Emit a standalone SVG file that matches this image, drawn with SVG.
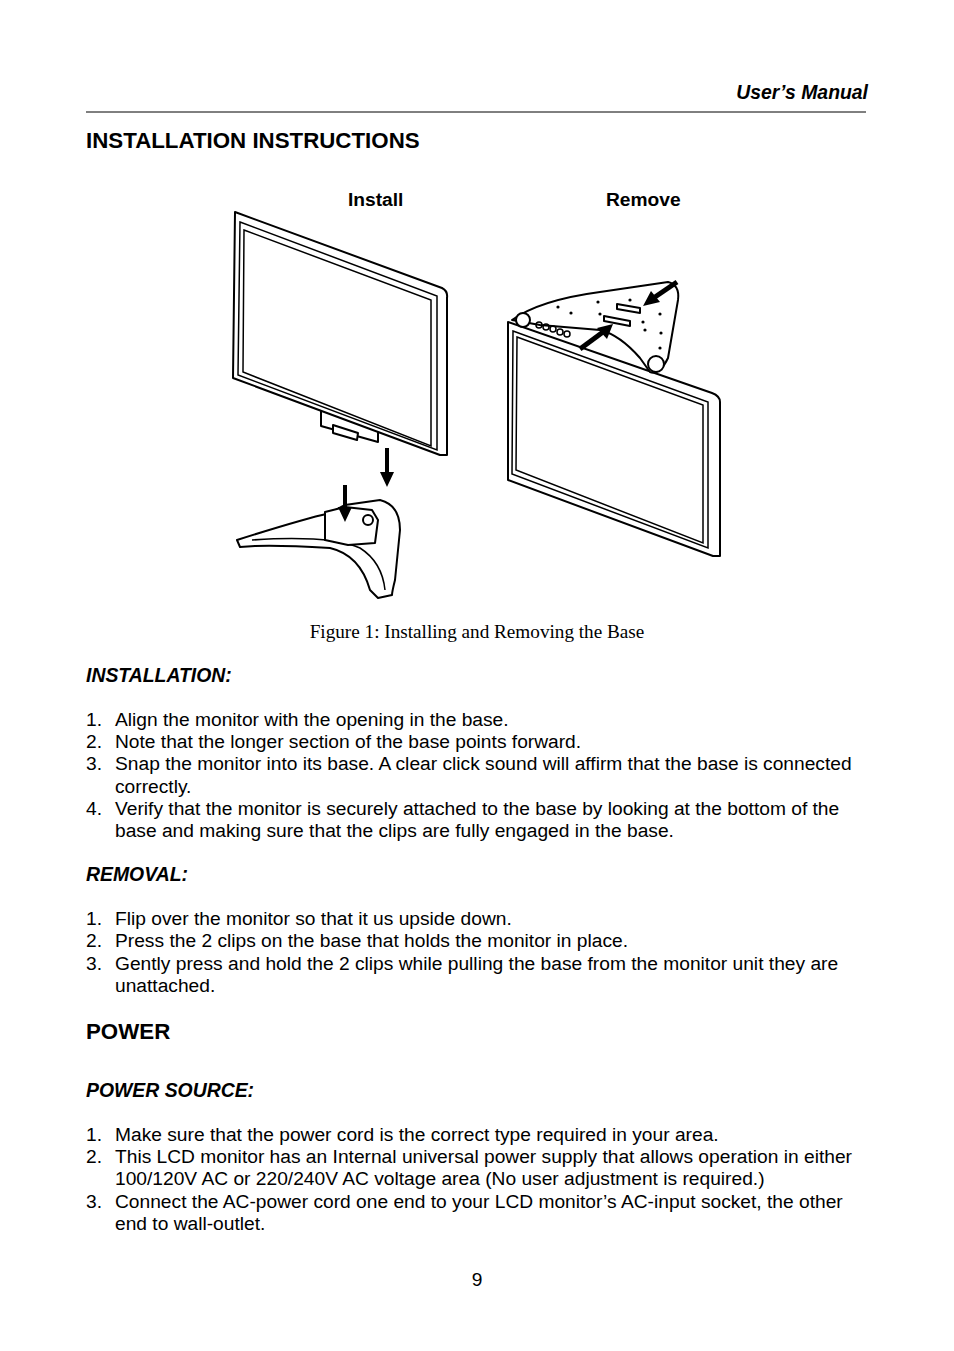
<svg xmlns="http://www.w3.org/2000/svg" width="954" height="1351" viewBox="0 0 954 1351">
<style>
.t{font-family:"Liberation Sans",Arial,sans-serif;font-size:19.2px;fill:#000}
.h{font-family:"Liberation Sans",Arial,sans-serif;font-size:22.3px;font-weight:bold}
.s{font-family:"Liberation Sans",Arial,sans-serif;font-size:19.4px;font-weight:bold;font-style:italic}
.d{fill:#fff;stroke:#000;stroke-width:2;stroke-linejoin:round}
.l{fill:none;stroke:#000;stroke-width:1.5}
</style>
<rect width="954" height="1351" fill="#fff"/>
<text x="868" y="99" text-anchor="end" class="s">User’s Manual</text>
<line x1="86" y1="112" x2="866" y2="112" stroke="#000" stroke-width="1"/>
<text x="86" y="148" class="h">INSTALLATION INSTRUCTIONS</text>
<text x="348" y="206" class="t" font-weight="bold">Install</text>
<text x="606" y="206" class="t" font-weight="bold">Remove</text>
<g id="install">
<path class="d" d="M321,405 L378,425 L378,442 L321,426 Z"/>
<path class="d" d="M333,425 L358,433 L357,440 L333,433 Z"/>
<path class="d" d="M235,212 L442,288 Q448,291 447,298 L447,455 L440,455 L233,378 Z"/>
<path class="l" d="M240,222 L437,296 L437,450 L238,375 Z"/>
<path class="l" d="M244,230 L431,300 L431,446 L243,372 Z"/>
<line x1="387" y1="448" x2="387" y2="475" stroke="#000" stroke-width="4"/>
<path d="M380,472 L394,472 L387,487 Z"/>
<path class="d" d="M237,540 Q300,520 330,513 L345,505 L380,500 Q400,505 400,530 L395,580 Q392,592 392,595 L378,598 L370,590 Q360,555 330,548 Q280,545 255,546 L240,547 Z"/>
<path class="l" d="M252,540 Q330,535 360,548 Q382,562 385,590"/>
<path class="d" d="M325,512 L345,507 L372,510 L378,520 L375,543 L348,545 L325,540 Z"/>
<circle cx="368" cy="520" r="5" class="d"/>
<line x1="345" y1="485" x2="345" y2="510" stroke="#000" stroke-width="4"/>
<path d="M338,507 L352,507 L345,522 Z"/>
</g>
<g id="remove">
<path class="d" d="M508,322 L712,393 Q720,396 720,402 L720,556 L713,556 L508,480 Z"/>
<path class="l" d="M513,331 L708,402 L708,548 L512,474 Z"/>
<path class="l" d="M517,337 L703,405 L703,543 L516,470 Z"/>
<path class="d" d="M512,320 Q540,300 600,292 L668,282 Q680,285 678,300 L668,358 Q660,375 650,372 L640,358 Q620,335 600,330 L540,325 Z"/>
<circle cx="523" cy="320" r="7" class="d"/>
<circle cx="656" cy="364" r="8" class="d"/>
<path class="d" d="M617,304 L640,308 L640,313 L617,309 Z"/>
<path class="d" d="M604,316 L630,321 L630,326 L604,321 Z"/>
<g fill="#000"><circle cx="598" cy="302" r="1.6"/><circle cx="630" cy="300" r="1.6"/><circle cx="660" cy="314" r="1.6"/><circle cx="661" cy="333" r="1.6"/><circle cx="600" cy="314" r="1.6"/><circle cx="645" cy="330" r="1.6"/><circle cx="660" cy="348" r="1.6"/><circle cx="643" cy="322" r="1.6"/><circle cx="558" cy="307" r="1.6"/><circle cx="571" cy="313" r="1.6"/></g>
<g class="l"><circle cx="539" cy="325" r="3"/><circle cx="546" cy="327" r="3"/><circle cx="553" cy="329" r="3"/><circle cx="560" cy="332" r="3"/><circle cx="567" cy="334" r="3"/></g>
<line x1="677" y1="282" x2="655" y2="297" stroke="#000" stroke-width="5"/>
<path d="M643,306 L660,302 L651,291 Z"/>
<line x1="580" y1="349" x2="603" y2="332" stroke="#000" stroke-width="5"/>
<path d="M613,324 L607,339 L597,328 Z"/>
</g>
<text x="477" y="638" text-anchor="middle" font-family="Liberation Serif,serif" font-size="19.2">Figure 1: Installing and Removing the Base</text>
<text x="86" y="682" class="s">INSTALLATION:</text>
<g class="t">
<text x="86" y="726">1.</text><text x="115" y="726">Align the monitor with the opening in the base.</text>
<text x="86" y="748">2.</text><text x="115" y="748">Note that the longer section of the base points forward.</text>
<text x="86" y="770">3.</text><text x="115" y="770">Snap the monitor into its base. A clear click sound will affirm that the base is connected</text>
<text x="115" y="793">correctly.</text>
<text x="86" y="815">4.</text><text x="115" y="815">Verify that the monitor is securely attached to the base by looking at the bottom of the</text>
<text x="115" y="837">base and making sure that the clips are fully engaged in the base.</text>
</g>
<text x="86" y="881" class="s">REMOVAL:</text>
<g class="t">
<text x="86" y="925">1.</text><text x="115" y="925">Flip over the monitor so that it us upside down.</text>
<text x="86" y="947">2.</text><text x="115" y="947">Press the 2 clips on the base that holds the monitor in place.</text>
<text x="86" y="970">3.</text><text x="115" y="970">Gently press and hold the 2 clips while pulling the base from the monitor unit they are</text>
<text x="115" y="992">unattached.</text>
</g>
<text x="86" y="1039" class="h">POWER</text>
<text x="86" y="1097" class="s">POWER SOURCE:</text>
<g class="t">
<text x="86" y="1141">1.</text><text x="115" y="1141">Make sure that the power cord is the correct type required in your area.</text>
<text x="86" y="1163">2.</text><text x="115" y="1163">This LCD monitor has an Internal universal power supply that allows operation in either</text>
<text x="115" y="1185">100/120V AC or 220/240V AC voltage area (No user adjustment is required.)</text>
<text x="86" y="1208">3.</text><text x="115" y="1208">Connect the AC-power cord one end to your LCD monitor’s AC-input socket, the other</text>
<text x="115" y="1230">end to wall-outlet.</text>
</g>
<text x="477" y="1286" text-anchor="middle" class="t">9</text>
</svg>
